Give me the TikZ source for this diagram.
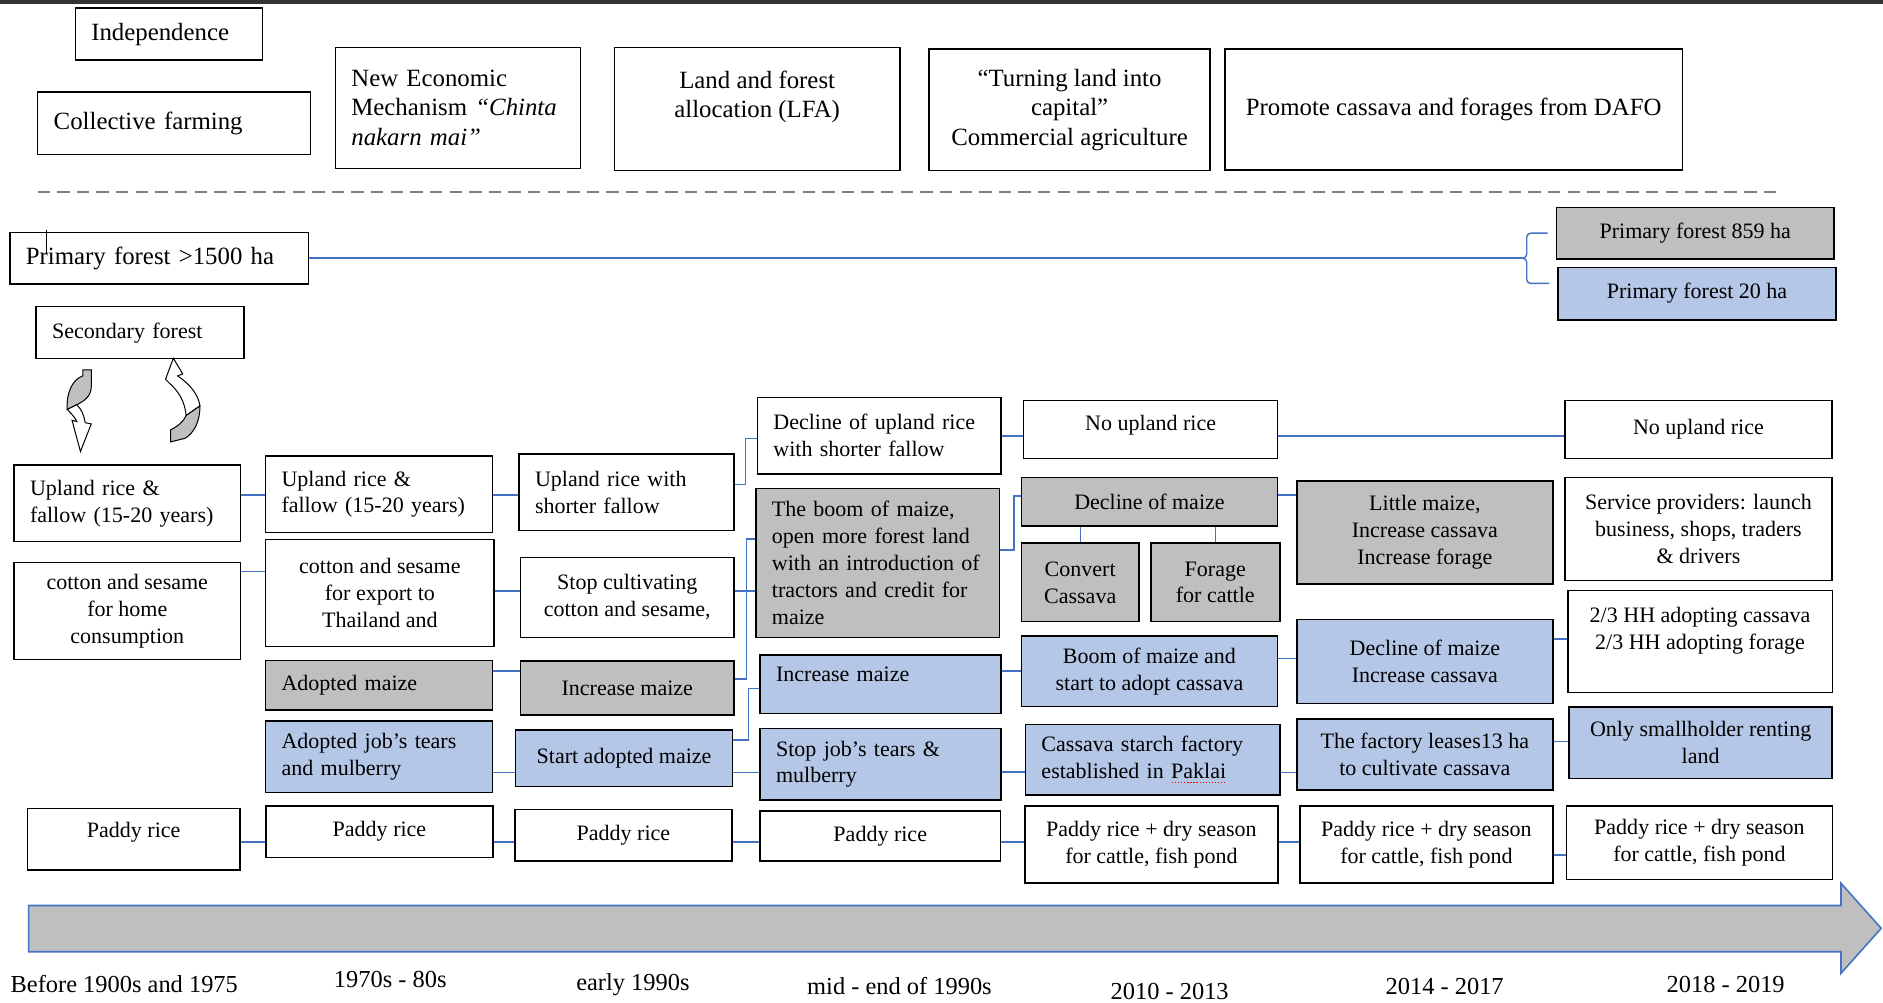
\documentclass[tikz,border=0pt]{standalone}
\usepackage{fontspec}
\setmainfont{Liberation Serif}
\usepackage{tikz}
\definecolor{boxgray}  {HTML}{BFBFBF}
\definecolor{boxblue}  {HTML}{B4C7E7}
\definecolor{linkblue} {HTML}{4472C4}
\definecolor{dashgray} {HTML}{7F7F7F}
\definecolor{topbar}   {HTML}{333333}
\newcommand\boxfont{\fontsize{11}{13.4}\selectfont}
\newcommand\headfont{\fontsize{12.4}{14.8}\selectfont}
\newcommand\yrfont{\fontsize{12.2}{14}\selectfont}
\newlength\spellw
\newcommand\spellmark[1]{\settowidth{\spellw}{#1}\rlap{#1}%
  \textcolor{red}{\raisebox{-2.4pt}{\hbox to \spellw{\xleaders\hbox to 1.5pt{\hss\rule{0.6pt}{0.5pt}\hss}\hfill}}}}
\tikzset{
  % --- nodes
  box/.style   = {draw=black, line width=0.75pt, fill=white, align=center,
                  inner sep=1pt, font=\boxfont},
  gbox/.style  = {box, fill=boxgray},
  bbox/.style  = {box, fill=boxblue},
  head/.style  = {box, font=\headfont},
  sz/.style 2 args  = {minimum width=#1pt, minimum height=#2pt},
  lsz/.style 2 args = {sz={#1}{#2}, align=left, inner xsep=8pt, text width=#1pt-16pt},
  yr/.style    = {font=\yrfont, text height=8.6pt, text depth=2.6pt, inner sep=0pt},
  % --- edges
  conn/.style  = {draw=linkblue, line width=0.7pt},
  divider/.style = {draw=dashgray, line width=1.3pt, dash pattern=on 6.2pt off 3.6pt},
  cyc/.style   = {draw=black, line width=0.5pt},
}
\begin{document}
\begin{tikzpicture}[x=1pt, y=-1pt]
  \useasboundingbox (0,0) rectangle (940.8,501);
  \fill[topbar] (0,0) rectangle (940.8,2.2);

  % policy boxes
  \node[head, lsz={93.6}{25.9}]  (indep)   at (84.4,17.05) {Independence};
  \node[head, lsz={136.3}{31.3}] (collect) at (87,61.5) {Collective farming};
  \node[head, lsz={122.5}{60.5}] (nem)     at (228.8,53.9) {New Economic\\Mechanism \textit{“Chinta}\\\textit{nakarn mai”}};
  \node[head, sz={142.7}{61.6}]  (lfa)     at (378.3,54.5) {Land and forest\\allocation (LFA)\\\mbox{}};
  \node[head, sz={140.5}{60.8}]  (turn)    at (534.4,54.9) {“Turning land into\\capital”\\Commercial agriculture};
  \node[head, sz={228.6}{60.5}]  (dafo)    at (726.3,54.7) {Promote cassava and forages from DAFO};
  \draw[divider] (18.8,96) -- (888.9,96);

  % forest
  \node[head, lsz={149.2}{25.8}] (pf1500) at (79.5,129) {Primary forest >1500 ha};
  \draw[line width=0.5pt] (23.3,114.9) -- (23.3,126.6);
  \node[gbox, sz={138.8}{25.8}] (pf859) at (847,116.5) {Primary forest 859 ha};
  \node[bbox, sz={138.9}{26.3}] (pf20)  at (847.9,146.7) {Primary forest 20 ha};
  \coordinate (brace) at (759.8,129);
  \draw[conn] (pf1500) -- (brace);
  \draw[conn, rounded corners=2pt] ([xshift=-4pt]pf859.west) -| (762.8,129) -- (brace);
  \draw[conn, rounded corners=2pt] ([xshift=-4pt]pf20.west |- 0,141.6) -| (762.8,129) -- (brace);
  \node[box, lsz={103.9}{26}] (sec) at (70,166.2) {Secondary forest};

  % shifting cultivation cycle
  \filldraw[cyc, fill=boxgray] (41.4,184.8) -- (45.6,184.8) -- (45.6,193.2) .. controls (45.6,198) and (42,200.4) .. (38.4,202.2)
    -- (33.6,204.6) .. controls (33,196.8) and (36,189.6) .. (41.4,187.8) -- cycle;
  \filldraw[cyc, fill=white] (33.6,204.6) -- (38.4,202.2) .. controls (40.8,204.6) and (42,207.6) .. (42.6,211.2) -- (45.6,211.8)
    -- (40.2,225.6) -- (36,210) -- (38.4,210.6) .. controls (37.2,208.2) and (35.4,206.4) .. (33.6,204.6) -- cycle;
  \filldraw[cyc, fill=white] (86.6,179) -- (91.3,186.8) -- (88.8,187.8) .. controls (94.8,192) and (99,196.8) .. (99.9,202.8)
    -- (93,207.6) .. controls (92.4,200.4) and (88.8,195) .. (84.6,191.4) -- (82.7,189.5) -- cycle;
  \filldraw[cyc, fill=boxgray] (99.9,202.8) .. controls (99.9,211.2) and (96.6,216.6) .. (92.4,219) -- (85.2,220.8)
    -- (85.2,214.8) .. controls (88.8,213) and (91.8,210.6) .. (93,207.6) -- cycle;

  % before 1900s and 1975
  \node[box, lsz={113.2}{38.3}] (c1up)  at (63.6,251.5) {Upland rice \&\\fallow (15-20 years)};
  \node[box, sz={113.2}{48.3}]  (c1cot) at (63.6,305.3) {cotton and sesame\\for home\\consumption};
  \node[box, sz={106.3}{30.9}, text depth=9pt] (c1pad) at (66.8,419.3) {Paddy rice};
  % 1970s - 80s
  \node[box, lsz={113.3}{38.2}]  (c2up)  at (189.3,246.9) {Upland rice \&\\fallow (15-20 years)};
  \node[box, sz={114.2}{53.6}]   (c2cot) at (189.8,296.3) {cotton and sesame\\for export to\\Thailand and};
  \node[gbox, lsz={113.3}{24.6}] (c2adm) at (189.3,342.4) {Adopted maize};
  \node[bbox, lsz={113.3}{35.7}] (c2job) at (189.3,378.1) {Adopted job’s tears\\and mulberry};
  \node[box, sz={113.4}{25.8}]   (c2pad) at (189.6,415.5) {Paddy rice};
  % early 1990s
  \node[box, lsz={107.4}{38.3}]  (c3up)    at (313,246) {Upland rice with\\shorter fallow};
  \node[box, sz={106.5}{39.8}]   (c3stop)  at (313.4,298.5) {Stop cultivating\\cotton and sesame,};
  \node[gbox, sz={106.5}{27.1}]  (c3inc)   at (313.4,343.7) {Increase maize};
  \node[bbox, sz={108.3}{28.3}]  (c3start) at (311.8,378.9) {Start adopted maize};
  \node[box, sz={108.6}{25.8}]   (c3pad)   at (311.5,417.3) {Paddy rice};
  % mid - end of 1990s
  \node[box, lsz={121.6}{38.3}]  (c4dec)  at (439.2,217.7) {Decline of upland rice\\with shorter fallow};
  \node[gbox, lsz={121.7}{74.4}] (c4boom) at (438.5,281.2) {The boom of maize,\\open more forest land\\with an introduction of\\tractors and credit for\\maize};
  \node[bbox, lsz={120.3}{29.2}, text depth=9.5pt] (c4inc) at (439.9,341.8) {Increase maize};
  \node[bbox, lsz={120.3}{35.8}] (c4stop) at (439.9,381.8) {Stop job’s tears \&\\mulberry};
  \node[box, sz={120}{25}]       (c4pad)  at (439.8,417.7) {Paddy rice};
  % 2010 - 2013
  \node[box, sz={126.9}{28.8}, text depth=6.5pt] (c5no) at (574.9,214.6) {No upland rice};
  \node[gbox, sz={128}{24.2}]    (c5dec)  at (574.3,250.6) {Decline of maize};
  \node[gbox, sz={58.8}{39.2}]   (c5conv) at (539.7,291) {Convert\\Cassava};
  \node[gbox, sz={64.4}{39.2}]   (c5for)  at (607.2,291) {Forage\\for cattle};
  \node[bbox, sz={128}{35.3}]    (c5boom) at (574.3,335.4) {Boom of maize and\\start to adopt cassava};
  \node[bbox, lsz={127.1}{35.3}] (c5fac)  at (575.9,379.6) {Cassava starch factory\\established in \spellmark{Paklai}};
  \node[box, sz={126.3}{38.3}]   (c5pad)  at (575.3,421.9) {Paddy rice + dry season\\for cattle, fish pond};
  % 2014 - 2017
  \node[gbox, sz={127.8}{51.6}]  (c6lit)  at (711.9,266) {Little maize,\\Increase cassava\\Increase forage};
  \node[bbox, sz={127.8}{42}]    (c6dec)  at (711.9,330.4) {Decline of maize\\Increase cassava};
  \node[bbox, sz={127.8}{35.5}]  (c6fac)  at (711.9,377) {The factory leases13 ha\\to cultivate cassava};
  \node[box, sz={126.6}{38.3}]   (c6pad)  at (712.7,421.9) {Paddy rice + dry season\\for cattle, fish pond};
  % 2018 - 2019
  \node[box, sz={133.6}{28.8}]   (c7no)   at (848.6,214.6) {No upland rice};
  \node[box, sz={133.6}{51.6}]   (c7serv) at (848.6,264.3) {Service providers: launch\\business, shops, traders\\\& drivers};
  \node[box, sz={132.1}{51}]     (c7hh)   at (849.4,320.6) {2/3 HH adopting cassava\\2/3 HH adopting forage\\\mbox{}};
  \node[bbox, sz={131.4}{35.7}]  (c7only) at (849.7,371) {Only smallholder renting\\land};
  \node[box, sz={133}{36.6}]     (c7pad)  at (849.1,421) {Paddy rice + dry season\\for cattle, fish pond};

  % links
  \draw[conn] (c1up.east |- 0,247.3) -- (c2up.west |- 0,247.3); \draw[conn] (c2up.east |- 0,247.3) -- (c3up.west |- 0,247.3);
  \draw[conn] (c3up.east |- 0,242) -- ++(5.5,0) |- (c4dec.west |- 0,219);
  \draw[conn] (c4dec.east |- 0,217.8) -- (c5no.west |- 0,217.8); \draw[conn] (c5no.east |- 0,217.8) -- (c7no.west |- 0,217.8);
  \draw[conn] (c1cot.east |- 0,285.6) -- (c2cot.west |- 0,285.6); \draw[conn] (c2cot.east |- 0,295.2) -- (c3stop.west |- 0,295.2);
  \draw[conn] (c3stop.east |- 0,295.2) -- (c4boom.west |- 0,295.2);
  \draw[conn] (c2adm.east |- 0,335.2) -- (c3inc.west |- 0,335.2);
  \draw[conn] (c3inc.east |- 0,339.2) -- ++(5.8,0) |- (c4boom.west |- 0,269.3);
  \draw[conn] (c4boom.east |- 0,274.8) -- ++(6.9,0) |- (c5dec.west |- 0,247.8);
  \draw[conn] (c5dec.south -| c5conv) -- (c5conv); \draw[conn] (c5dec.south -| c5for) -- (c5for);
  \draw[conn] (c5dec.east |- 0,247.3) -- (c6lit.west |- 0,247.3);
  \draw[conn] (c2job.east |- 0,385.9) -- (c3start.west |- 0,385.9);
  \draw[conn] (c3start.east |- 0,369.7) -- ++(7.5,0) |- (c4inc.west |- 0,343.9);
  \draw[conn] (c3start.east |- 0,385.9) -- (c4stop.west |- 0,385.9);
  \draw[conn] (c4inc.east |- 0,335.2) -- (c5boom.west |- 0,335.2); \draw[conn] (c4stop.east |- 0,385.8) -- (c5fac.west |- 0,385.8);
  \draw[conn] (c5boom.east |- 0,328.9) -- (c6dec.west |- 0,328.9); \draw[conn] (c6dec.east |- 0,319.2) -- (c7hh.west |- 0,319.2);
  \draw[conn] (c5fac.east |- 0,385.9) -- (c6fac.west |- 0,385.9); \draw[conn] (c6fac.east |- 0,370.6) -- (c7only.west |- 0,370.6);
  \draw[conn] (c1pad.east |- 0,420.6) -- (c2pad.west |- 0,420.6); \draw[conn] (c2pad.east |- 0,420.6) -- (c3pad.west |- 0,420.6);
  \draw[conn] (c3pad.east |- 0,420.6) -- (c4pad.west |- 0,420.6); \draw[conn] (c4pad.east |- 0,420.6) -- (c5pad.west |- 0,420.6);
  \draw[conn] (c5pad.east |- 0,420.6) -- (c6pad.west |- 0,420.6); \draw[conn] (c6pad.east |- 0,427.2) -- (c7pad.west |- 0,427.2);

  % time line
  \filldraw[fill=boxgray, draw=linkblue, line width=0.8pt] (14.3,452.4) -- (919.8,452.4) -- (919.8,441.3) -- (939.9,463.8)
    -- (919.8,486.3) -- (919.8,475.5) -- (14.3,475.5) -- cycle;
  \node[yr] (t1) at (62.1,493)   {Before 1900s and 1975};
  \node[yr] (t2) at (195,490.5)  {1970s - 80s};
  \node[yr] (t3) at (316.2,491.7) {early 1990s};
  \node[yr] (t4) at (449.4,493.8) {mid - end of 1990s};
  \node[yr] (t5) at (584.4,496.2) {2010 - 2013};
  \node[yr] (t6) at (721.8,493.8) {2014 - 2017};
  \node[yr] (t7) at (862.2,493)   {2018 - 2019};
\end{tikzpicture}
\end{document}
